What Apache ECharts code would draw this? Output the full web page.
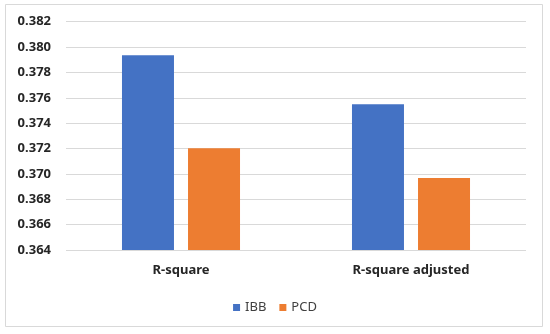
<!DOCTYPE html>
<html><head><meta charset="utf-8">
<script src="https://cdn.jsdelivr.net/npm/echarts@6/dist/echarts.min.js"></script>
<style>html,body{margin:0;padding:0;background:#fff}#c{width:550px;height:334px}</style>
</head><body><div id="c"></div>
<script>
const categories = ["R-square", "R-square adjusted"];
const ibbValues = [0.37935, 0.37549];
const pcdValues = [0.37202, 0.36968];
const seriesNames = ["IBB", "PCD"];
const chart = echarts.init(document.getElementById('c'), null, {renderer: 'canvas'});
const font = "'Noto Sans', 'Open Sans', sans-serif";
chart.setOption({
  backgroundColor: '#fff',
  animation: false,
  graphic: [{type: 'rect', shape: {x: 5.5, y: 4.5, width: 537, height: 322}, style: {fill: 'none', stroke: '#d9d9d9', lineWidth: 1}, silent: true}],
  grid: {left: 66, right: 24, top: 21.7, bottom: 84, containLabel: false},
  legend: {
    data: seriesNames, top: 296, left: 'center', itemWidth: 7, itemHeight: 7, itemGap: 13,
    icon: 'rect', textStyle: {fontFamily: font, fontSize: 13, color: '#404040'}
  },
  xAxis: {
    type: 'category', data: categories,
    axisLine: {show: false}, axisTick: {show: false},
    axisLabel: {fontFamily: font, fontWeight: 'bold', fontSize: 13, color: '#262626', margin: 14}
  },
  yAxis: {
    type: 'value', min: 0.364, max: 0.382, interval: 0.002,
    axisLine: {show: false}, axisTick: {show: false},
    splitLine: {lineStyle: {color: '#d9d9d9', width: 1}},
    axisLabel: {fontFamily: font, fontWeight: 'bold', fontSize: 13, color: '#262626', margin: 15,
      formatter: v => v.toFixed(3)}
  },
  series: [
    {name: seriesNames[0], type: 'bar', data: ibbValues, barWidth: 52, barGap: '27%', itemStyle: {color: '#4472c4'}},
    {name: seriesNames[1], type: 'bar', data: pcdValues, barWidth: 52, barGap: '27%', itemStyle: {color: '#ed7d31'}}
  ]
});
</script></body></html>
